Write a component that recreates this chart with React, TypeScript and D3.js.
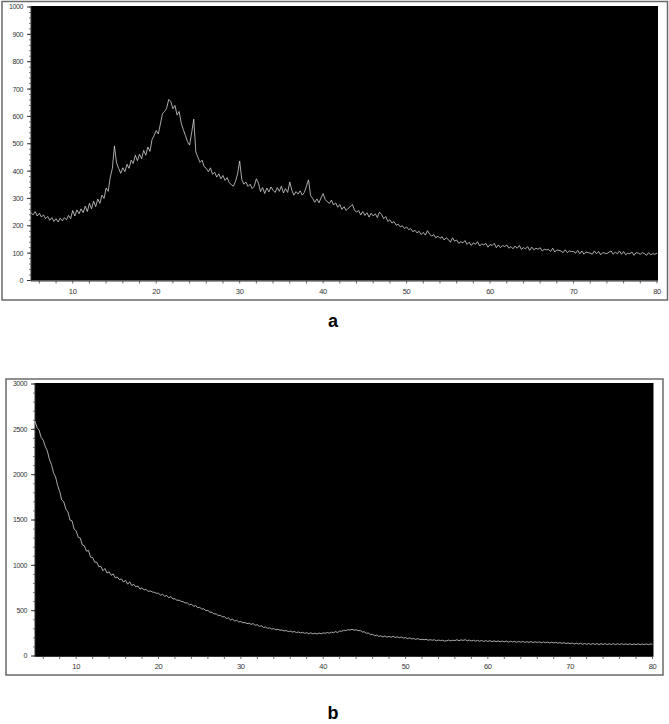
import React from 'react';
import * as d3 from 'd3';

// ---- data ----
const angleStartA = 5;
const angleStepA = 0.25;
const intensityA = [
  248, 240, 252, 236,
  246, 232, 240, 226,
  234, 220, 230, 216,
  226, 214, 228, 218,
  230, 222, 238, 226,
  256, 236, 258, 244,
  262, 248, 272, 252,
  282, 262, 290, 270,
  298, 282, 312, 300,
  338, 326, 378, 410,
  492, 430, 410, 392,
  412, 398, 425, 410,
  440, 428, 458, 438,
  462, 445, 476, 458,
  488, 472, 515, 530,
  548, 536, 572, 610,
  618, 630, 662, 655,
  628, 640, 605, 618,
  575, 552, 530, 508,
  495, 540, 590, 470,
  450, 432, 440, 416,
  410, 398, 412, 388,
  396, 378, 390, 372,
  384, 366, 376, 358,
  350, 345, 362, 390,
  437, 370, 352, 360,
  344, 352, 336, 345,
  372, 356, 325, 340,
  318, 338, 324, 342,
  330, 322, 340, 326,
  345, 320, 336, 322,
  360, 330, 312, 325,
  316, 328, 312, 322,
  345, 368, 310, 300,
  286, 298, 284, 302,
  318, 296, 288, 282,
  294, 276, 284, 268,
  278, 260, 270, 256,
  264, 270, 278, 258,
  250, 256, 240, 252,
  238, 248, 232, 246,
  236, 244, 230, 250,
  242, 226, 234, 216,
  222, 210, 216, 202,
  206, 196, 200, 190,
  196, 186, 190, 178,
  184, 174, 180, 168,
  176, 166, 182, 170,
  162, 168, 156, 162,
  154, 160, 148, 156,
  150, 140, 156, 144,
  148, 136, 142, 138,
  146, 132, 140, 128,
  138, 132, 142, 126,
  134, 130, 136, 122,
  132, 128, 136, 120,
  130, 120, 128, 124,
  130, 118, 124, 116,
  126, 118, 128, 114,
  120, 116, 124, 110,
  122, 112, 118, 114,
  120, 108, 114, 112,
  114, 106, 118, 104,
  112, 110, 108, 102,
  112, 102, 108, 106,
  106, 100, 110, 98,
  108, 96, 104, 102,
  100, 96, 108, 98,
  106, 94, 102, 100,
  98, 104, 108, 96,
  104, 98, 108, 96,
  106, 94, 100, 98,
  104, 92, 102, 100,
  96, 102, 98, 92,
  102, 94, 98, 96,
  100,
];

const angleStartB = 5;
const angleStepB = 0.25;
const intensityB = [
  2590, 2520, 2490, 2410,
  2380, 2310, 2260, 2170,
  2110, 2020, 1975, 1880,
  1815, 1720, 1700, 1620,
  1590, 1500, 1490, 1400,
  1380, 1310, 1300, 1225,
  1215, 1155, 1165, 1090,
  1085, 1035, 1035, 985,
  990, 940, 965, 915,
  928, 890, 905, 862,
  872, 842, 850, 815,
  835, 792, 818, 778,
  790, 762, 772, 738,
  752, 728, 734, 712,
  718, 706, 702, 692,
  692, 672, 680, 658,
  668, 642, 656, 628,
  632, 614, 616, 602,
  598, 585, 586, 565,
  572, 548, 558, 532,
  537, 518, 520, 500,
  502, 483, 482, 463,
  465, 446, 449, 432,
  434, 414, 420, 398,
  406, 386, 394, 375,
  381, 365, 371, 357,
  363, 349, 357, 339,
  345, 327, 333, 315,
  319, 305, 311, 297,
  302, 290, 295, 284,
  287, 276, 281, 270,
  275, 264, 270, 258,
  265, 254, 260, 250,
  257, 246, 256, 244,
  252, 242, 254, 244,
  255, 250, 260, 251,
  263, 258, 269, 260,
  275, 272, 284, 280,
  290, 286, 296, 285,
  290, 279, 282, 266,
  266, 251, 253, 236,
  238, 224, 230, 216,
  222, 210, 221, 208,
  216, 206, 217, 204,
  212, 202, 209, 197,
  203, 192, 201, 188,
  193, 183, 193, 180,
  185, 179, 184, 174,
  180, 174, 179, 168,
  176, 170, 174, 165,
  168, 176, 166, 174,
  170, 180, 168, 178,
  172, 180, 168, 176,
  166, 174, 164, 172,
  162, 172, 160, 170,
  160, 170, 158, 168,
  158, 166, 156, 165,
  156, 164, 153, 163,
  155, 162, 151, 161,
  152, 161, 150, 158,
  150, 159, 148, 157,
  149, 156, 146, 155,
  147, 154, 144, 152,
  144, 151, 141, 148,
  140, 147, 137, 144,
  136, 143, 133, 141,
  132, 140, 130, 138,
  129, 138, 127, 137,
  128, 137, 126, 136,
  127, 137, 126, 135,
  127, 136, 125, 135,
  126, 136, 125, 134,
  126, 135, 124, 134,
  125, 135, 124, 133,
  125, 134, 124, 133,
  130,
];

const xTickLabels = [10, 20, 30, 40, 50, 60, 70, 80];
const xMinorStep = 2;
const yTicksA = [0, 100, 200, 300, 400, 500, 600, 700, 800, 900, 1000];
const yTicksB = [0, 500, 1000, 1500, 2000, 2500, 3000];
const panelLabels = ['a', 'b'];

// ---- layout ----
type PanelCfg = {
  box: { x: number; y: number; w: number; h: number };
  x0: number; x1: number; y0: number; y1: number;
  yMax: number; yTicks: number[]; yMinor: number;
  start: number; step: number; values: number[];
  label: string; labelY: number;
};

const panels: PanelCfg[] = [
  {
    box: { x: 2, y: 1.5, w: 665.5, h: 298.5 },
    x0: 31, x1: 657, y0: 7, y1: 280.5,
    yMax: 1000, yTicks: yTicksA, yMinor: 20,
    start: angleStartA, step: angleStepA, values: intensityA,
    label: panelLabels[0], labelY: 327,
  },
  {
    box: { x: 6, y: 379, w: 657, h: 296 },
    x0: 35, x1: 652.5, y0: 384, y1: 656,
    yMax: 3000, yTicks: yTicksB, yMinor: 100,
    start: angleStartB, step: angleStepB, values: intensityB,
    label: panelLabels[1], labelY: 719,
  },
];

const tickFont = '"Liberation Sans", Arial, sans-serif';

function Panel({ p }: { p: PanelCfg }) {
  const x = d3.scaleLinear().domain([5, 80]).range([p.x0, p.x1]);
  const y = d3.scaleLinear().domain([0, p.yMax]).range([p.y1, p.y0]);
  const pts: [number, number][] = p.values.map((v, i) => [p.start + i * p.step, v]);
  const line = d3.line<[number, number]>().x((d) => x(d[0])).y((d) => y(d[1]));
  const minorX = d3.range(6, 80.001, xMinorStep);
  const minorY = d3.range(0, p.yMax + 0.001, p.yMinor);
  return (
    <g>
      <rect x={p.box.x} y={p.box.y} width={p.box.w} height={p.box.h} fill="#fff" stroke="#6a6a6a" strokeWidth={1.5} />
      <rect x={p.x0} y={p.y0 - 1} width={p.x1 - p.x0 + 1} height={p.y1 - p.y0 + 1} fill="#000" />
      <line x1={p.x0} x2={p.x0} y1={p.y0 - 1} y2={p.y1} stroke="#333" strokeWidth={1} />
      <line x1={p.x0} x2={p.x1 + 1} y1={p.y1 + 0.5} y2={p.y1 + 0.5} stroke="#333" strokeWidth={1} />
      {minorY.map((t) => (
        <line key={'my' + t} x1={p.x0 - 2} x2={p.x0} y1={y(t)} y2={y(t)} stroke="#555" strokeWidth={0.8} />
      ))}
      {p.yTicks.map((t) => (
        <g key={'y' + t}>
          <line x1={p.x0 - 4} x2={p.x0} y1={y(t)} y2={y(t)} stroke="#333" strokeWidth={1} />
          <text x={p.x0 - 8} y={y(t)} dy="0.35em" textAnchor="end" fontSize={7} letterSpacing={-0.4} fill="#333" fontFamily={tickFont}>
            {t}
          </text>
        </g>
      ))}
      {minorX.map((t) => (
        <line key={'mx' + t} x1={x(t)} x2={x(t)} y1={p.y1} y2={p.y1 + 3} stroke="#444" strokeWidth={0.8} />
      ))}
      {xTickLabels.map((t) => (
        <text key={'x' + t} x={x(t)} y={p.y1 + 13} textAnchor="middle" fontSize={7.5} letterSpacing={-0.3} fill="#333" fontFamily={tickFont}>
          {t}
        </text>
      ))}
      <path d={line(pts) || ''} fill="none" stroke="#d4d4d4" strokeWidth={0.8} />
      <text x={333} y={p.labelY} textAnchor="middle" fontSize={18} fontWeight="bold" fill="#000" fontFamily={tickFont}>
        {p.label}
      </text>
    </g>
  );
}

export default function App() {
  return (
    <svg width={669} height={724} style={{ position: 'absolute', left: 0, top: 0, background: '#fff' }}>
      {panels.map((p, i) => (
        <Panel key={i} p={p} />
      ))}
    </svg>
  );
}
